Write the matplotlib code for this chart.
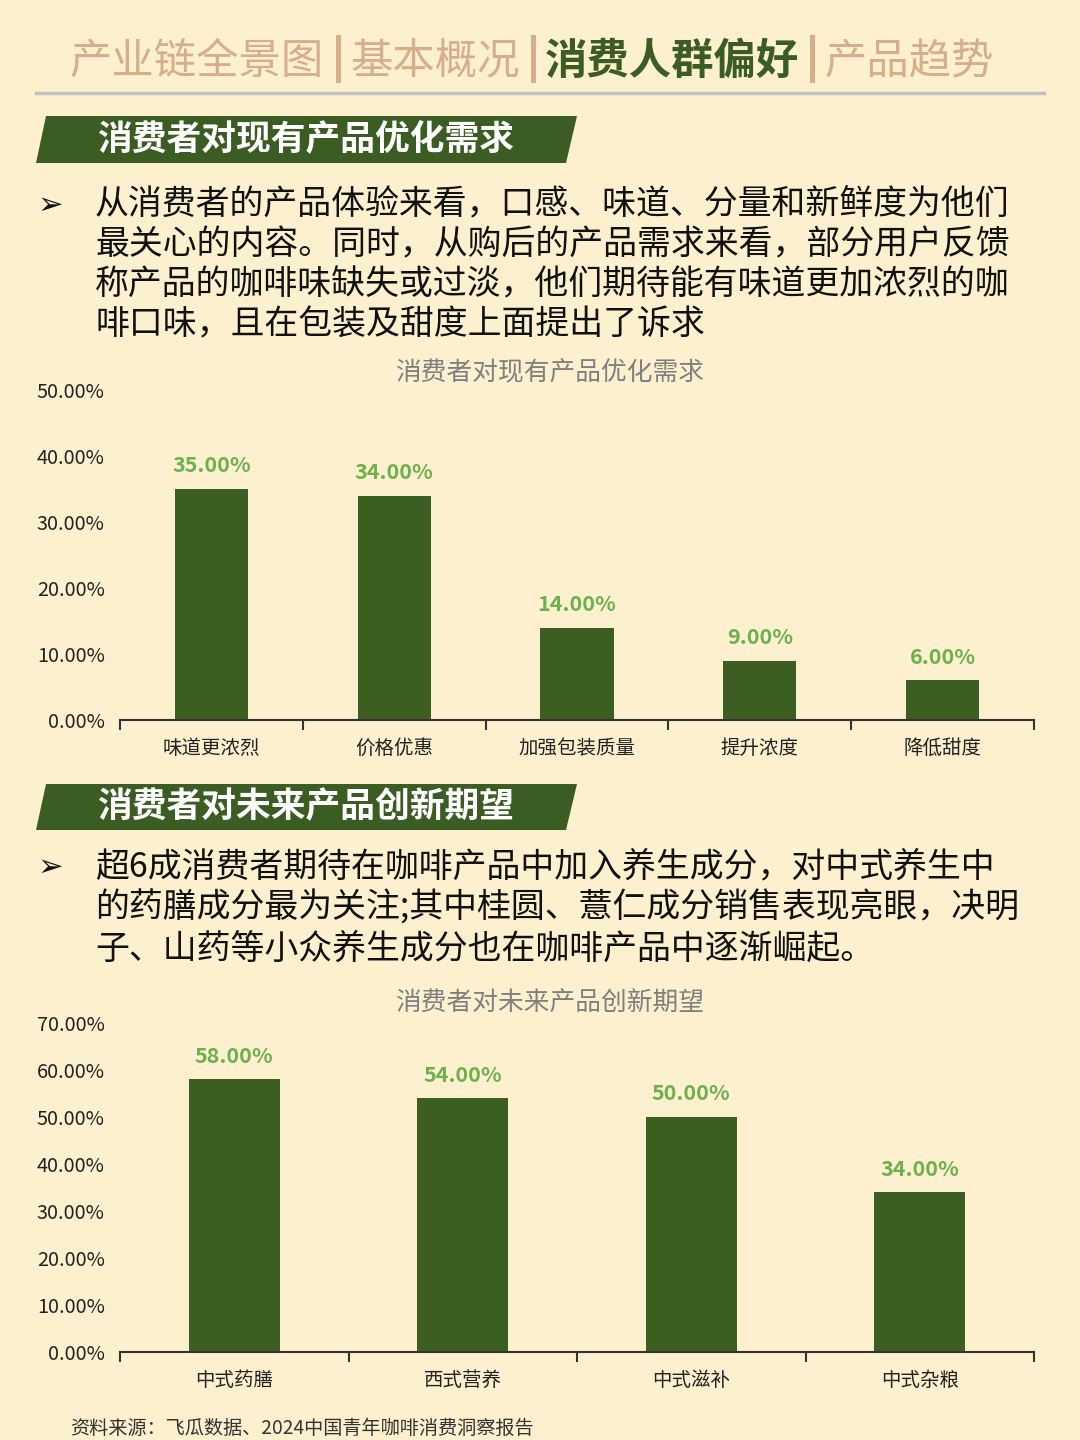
import matplotlib.pyplot as plt
from matplotlib.patches import Polygon, Rectangle

plt.rcParams['font.family'] = ['Noto Sans CJK SC', 'DejaVu Sans']

# Data
cats1 = ['味道更浓烈', '价格优惠', '加强包装质量', '提升浓度', '降低甜度']
vals1 = [35, 34, 14, 9, 6]
cats2 = ['中式药膳', '西式营养', '中式滋补', '中式杂粮']
vals2 = [58, 54, 50, 34]

tabs = ['产业链全景图', '基本概况', '消费人群偏好', '产品趋势']
active_tab = 2

para1 = ['从消费者的产品体验来看，口感、味道、分量和新鲜度为他们',
         '最关心的内容。同时，从购后的产品需求来看，部分用户反馈',
         '称产品的咖啡味缺失或过淡，他们期待能有味道更加浓烈的咖',
         '啡口味，且在包装及甜度上面提出了诉求']
para2 = ['超6成消费者期待在咖啡产品中加入养生成分，对中式养生中',
         '的药膳成分最为关注;其中桂圆、薏仁成分销售表现亮眼，决明',
         '子、山药等小众养生成分也在咖啡产品中逐渐崛起。']

BG = '#FDF0CF'
DARK_GREEN = '#3B5C22'
BAR_GREEN = '#3D5E21'
LABEL_GREEN = '#6DB04E'
TAN = '#D6AE8C'

W, H = 1080, 1440
fig = plt.figure(figsize=(W / 100, H / 100), dpi=100)
fig.patch.set_facecolor(BG)


def fx(x):
    return x / W


def fy(y):
    return 1 - y / H


# Header tabs
tab_x = [70, 350, 545, 825]
for i, (t, x) in enumerate(zip(tabs, tab_x)):
    fig.text(fx(x), fy(62), t, fontsize=30.5, ha='left', va='center',
             color=DARK_GREEN if i == active_tab else TAN,
             fontweight='bold' if i == active_tab else 'normal')
for x in [336, 531, 810]:
    fig.patches.append(Rectangle((fx(x), fy(83)), 5 / W, 48 / H, transform=fig.transFigure,
                                 facecolor=TAN, edgecolor='none'))
fig.add_artist(plt.Line2D([fx(36), fx(1044)], [fy(93), fy(93)], color='#BFC2C0', lw=2.5))


def banner(y_top, y_bot, text):
    pts = [(fx(36), fy(y_bot)), (fx(46), fy(y_top)), (fx(577), fy(y_top)), (fx(566), fy(y_bot))]
    fig.patches.append(Polygon(pts, closed=True, transform=fig.transFigure,
                               facecolor=DARK_GREEN, edgecolor='none'))
    fig.text(fx(306), fy((y_top + y_bot) / 2), text, fontsize=25, fontweight='bold',
             color='white', ha='center', va='center')


def paragraph(lines, y0, step):
    fig.text(fx(38), fy(y0), '➢', fontsize=22, fontweight='bold', color='#111111',
             ha='left', va='center', family=['DejaVu Sans'])
    for i, line in enumerate(lines):
        fig.text(fx(95), fy(y0 + i * step), line, fontsize=24.4, color='#111111',
                 ha='left', va='center')


banner(116, 163, '消费者对现有产品优化需求')
paragraph(para1, 205, 40)
banner(784, 830, '消费者对未来产品创新期望')
paragraph(para2, 867, 41)


def bar_chart(ax, cats, vals, ymax, title, title_y):
    x = range(len(cats))
    bars = ax.bar(x, vals, width=0.4, color=BAR_GREEN)
    ax.bar_label(bars, labels=[f'{v:.2f}%' for v in vals], padding=9,
                 fontsize=15.5, fontweight='bold', color=LABEL_GREEN)
    ax.set_facecolor('none')
    ax.set_xlim(-0.5, len(cats) - 0.5)
    ax.set_ylim(0, ymax)
    ax.set_yticks(range(0, ymax + 1, 10))
    ax.set_yticklabels([f'{v:.2f}%' for v in range(0, ymax + 1, 10)])
    ax.set_xticks(list(x))
    ax.set_xticklabels(cats)
    ax.set_xticks([i - 0.5 for i in range(len(cats) + 1)], minor=True)
    ax.tick_params(axis='x', which='major', length=0, pad=13, labelsize=14, labelcolor='#222222')
    ax.tick_params(axis='x', which='minor', length=7, width=1.5, color='#333333', direction='out')
    ax.tick_params(axis='y', length=0, pad=11, labelsize=14.3, labelcolor='#222222')
    for s in ['top', 'right', 'left']:
        ax.spines[s].set_visible(False)
    ax.spines['bottom'].set_color('#333333')
    ax.spines['bottom'].set_linewidth(1.5)
    fig.text(fx(550), fy(title_y), title, fontsize=18.5, color='#7F7F7F', ha='center', va='center')


ax1 = fig.add_axes([fx(120), fy(720), 914 / W, 330 / H])
bar_chart(ax1, cats1, vals1, 50, '消费者对现有产品优化需求', 373)

ax2 = fig.add_axes([fx(120), fy(1352), 914 / W, 329 / H])
bar_chart(ax2, cats2, vals2, 70, '消费者对未来产品创新期望', 1004)

fig.text(fx(70), fy(1428), '资料来源：飞瓜数据、2024中国青年咖啡消费洞察报告', fontsize=13.8,
         color='#333333', ha='left', va='center')

plt.savefig('out.png', dpi=100, facecolor=fig.get_facecolor())
